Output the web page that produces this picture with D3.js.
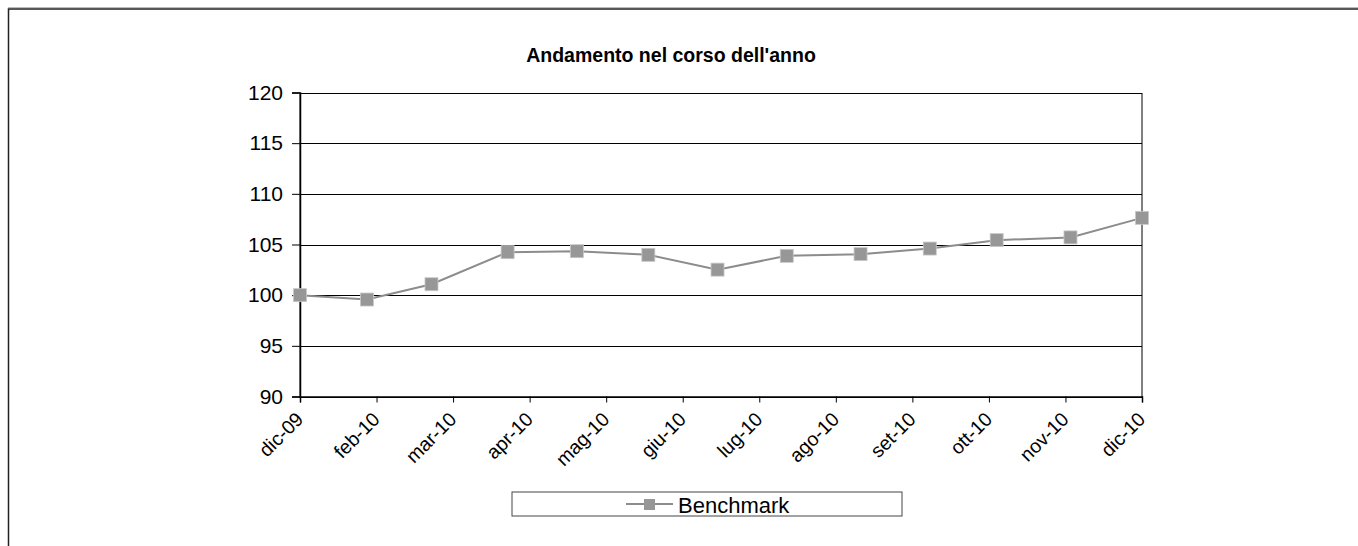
<!DOCTYPE html>
<html><head><meta charset="utf-8">
<script src="https://cdn.jsdelivr.net/npm/d3@7"></script>
<style>
html,body{margin:0;padding:0;background:#fff;}
svg text{font-family:"Liberation Sans",Arial,sans-serif;}
</style></head>
<body><svg id="c" width="1358" height="546"></svg>
<script>
const title = "Andamento nel corso dell'anno";
const seriesName = "Benchmark";
const dates = ["2009-12-31","2010-01-29","2010-02-26","2010-03-31","2010-04-30","2010-05-31","2010-06-30","2010-07-30","2010-08-31","2010-09-30","2010-10-29","2010-11-30","2010-12-31"];
const values = [100, 99.57, 101.08, 104.24, 104.34, 103.98, 102.52, 103.88, 104.05, 104.6, 105.43, 105.7, 107.63];
const xTickLabels = ["dic-09","feb-10","mar-10","apr-10","mag-10","giu-10","lug-10","ago-10","set-10","ott-10","nov-10","dic-10"];
const yTicks = [90,95,100,105,110,115,120];

const svg = d3.select("#c");
const parse = d3.utcParse("%Y-%m-%d");
const data = dates.map((d,i)=>({date:parse(d), v:values[i]}));

const L=300, R=1142, T=92.5, B=396.5;
const x = d3.scaleUtc().domain([data[0].date, data[data.length-1].date]).range([L,R]);
const y = d3.scaleLinear().domain([90,120]).range([B,T]);

// outer frame
svg.append("rect").attr("x",8.5).attr("y",9).attr("width",1400).attr("height",600)
  .attr("fill","none").attr("stroke","#222").attr("stroke-width",1.5);
svg.append("line").attr("x1",8).attr("x2",1358).attr("y1",7.5).attr("y2",7.5).attr("stroke","#bbb").attr("stroke-width",1);

// title
svg.append("text").attr("x",671).attr("y",62).attr("text-anchor","middle")
  .attr("font-size",19.5).attr("font-weight","bold").attr("fill","#000").text(title);

// gridlines
svg.append("g").selectAll("line").data(yTicks.filter(t=>t>90&&t<120)).join("line")
  .attr("x1",L).attr("x2",R).attr("y1",d=>Math.round(y(d))+0.5).attr("y2",d=>Math.round(y(d))+0.5)
  .attr("stroke","#000").attr("stroke-width",1);
// plot border top/right
svg.append("rect").attr("x",L).attr("y",Math.round(T)+0.5).attr("width",R-L).attr("height",B-T)
  .attr("fill","none").attr("stroke","#000").attr("stroke-width",1);

// y axis
const yAxis = svg.append("g").attr("transform",`translate(${L},0)`)
  .call(d3.axisLeft(y).tickValues(yTicks).tickSize(8).tickPadding(9).tickFormat(d3.format("d")));
yAxis.select(".domain").attr("stroke","#000").attr("stroke-width",1.5);
yAxis.selectAll(".tick line").attr("stroke","#000");
yAxis.selectAll("text").attr("font-size",21).attr("fill","#000")
  .attr("font-family","Liberation Sans, Arial, sans-serif");

// x axis
const t0 = data[0].date.getTime(), t1 = data[data.length-1].date.getTime();
const xTickDates = xTickLabels.map((_,i)=> new Date(t0 + (t1-t0)*i/(xTickLabels.length-1)));
const xAxis = svg.append("g").attr("transform",`translate(0,${B})`)
  .call(d3.axisBottom(x).tickValues(xTickDates).tickSize(6).tickFormat((d,i)=>xTickLabels[i]));
xAxis.select(".domain").attr("stroke","#000").attr("stroke-width",1.5);
xAxis.selectAll(".tick line").attr("stroke","#000");
xAxis.selectAll("text").attr("font-size",19.5).attr("fill","#000")
  .attr("font-family","Liberation Sans, Arial, sans-serif")
  .attr("text-anchor","end").attr("dy",null).attr("y",0)
  .attr("transform","translate(4,24) rotate(-45)");

// line
svg.append("path").datum(data)
  .attr("d", d3.line().x(d=>x(d.date)).y(d=>y(d.v)))
  .attr("fill","none").attr("stroke","#8c8c8c").attr("stroke-width",2);
const ms = 13;
svg.append("g").selectAll("rect").data(data).join("rect")
  .attr("x",d=>x(d.date)-ms/2).attr("y",d=>y(d.v)-ms/2).attr("width",ms).attr("height",ms)
  .attr("fill","#979797").attr("stroke","#c8c8c8").attr("stroke-width",0.8);

// legend
const lg = svg.append("g");
lg.append("rect").attr("x",512).attr("y",492).attr("width",390).attr("height",24)
  .attr("fill","#fff").attr("stroke","#444").attr("stroke-width",1);
lg.append("line").attr("x1",626).attr("x2",673).attr("y1",504).attr("y2",504)
  .attr("stroke","#8c8c8c").attr("stroke-width",2);
lg.append("rect").attr("x",644).attr("y",499).attr("width",11).attr("height",11)
  .attr("fill","#979797");
lg.append("text").attr("x",678).attr("y",513).attr("font-size",22).attr("fill","#000").text(seriesName);
</script></body></html>
